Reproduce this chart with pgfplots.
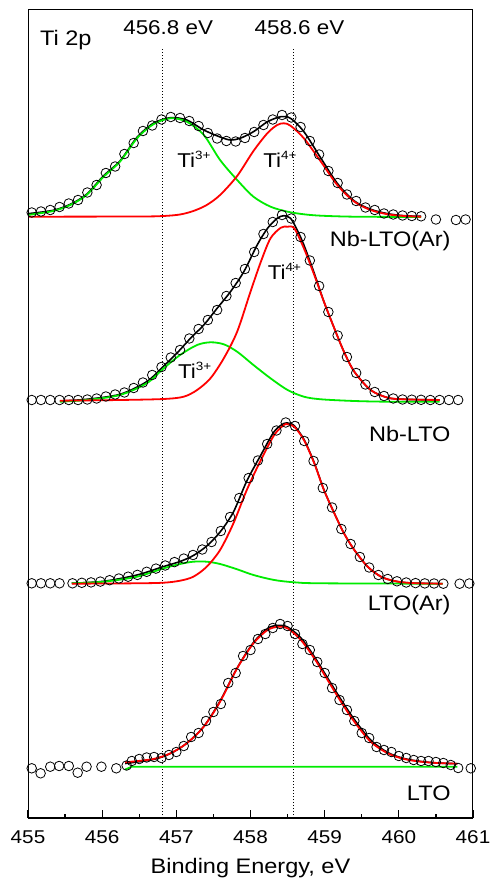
\documentclass[border=0pt]{standalone}
\usepackage{fontspec}
\setmainfont{Liberation Sans}[FakeStretch=1.12]
\usepackage{pgfplots}
\pgfplotsset{compat=1.18}
\usetikzlibrary{calc}
\definecolor{fitgreen}{RGB}{0,235,0}
\definecolor{fitred}{RGB}{255,0,0}

\begin{document}
\begin{tikzpicture}
\begin{axis}[
  width=445pt, height=808pt, scale only axis,
  xmin=455, xmax=461, ymin=0, ymax=808,
  xtick={455,456,...,461}, minor x tick num=1,
  xtick pos=bottom, ytick=\empty,
  tick align=inside,
  major tick length=8pt, minor tick length=4pt,
  every tick/.style={black, line width=1.2pt},
  axis line style={line width=1pt},
  /pgf/number format/assume math mode=true,
  /pgf/number format/1000 sep={},
  x tick label style={font=\fontsize{18.5}{20}\selectfont, anchor=base, yshift=-25pt},
  xlabel={Binding Energy, eV},
  xlabel style={font=\fontsize{21}{23}\selectfont, at={(axis description cs:0.5,0)}, anchor=base, yshift=-55pt},
  circ/.style={only marks, mark=o, mark size=4.8pt, mark options={line width=0.8pt, black}},
  env/.style={black, line width=1.6pt, smooth},
  gfit/.style={fitgreen, line width=1.8pt, smooth},
  rfit/.style={fitred, line width=1.8pt, smooth},
]

% reference lines
\addplot[black, dotted, line width=1pt] coordinates {(456.82,0)(456.82,770)};
\addplot[black, dotted, line width=1pt] coordinates {(458.58,0)(458.58,770)};

% ---------------- Nb-LTO(Ar), top
\addplot[circ] coordinates {
 (455.05,605.5)(455.175,606.5)(455.30,608)(455.425,611)(455.55,614.5)(455.675,618)
 (455.80,625.5)(455.925,633)(456.05,645)(456.175,651.5)(456.30,664)(456.425,675)
 (456.55,687)(456.675,692.5)(456.80,698.5)(456.925,701)(457.05,700)(457.175,697)
 (457.30,692)(457.425,685)(457.55,679.5)(457.675,677)(457.80,676.5)(457.925,680)
 (458.05,686)(458.175,693)(458.30,698.5)(458.425,703)(458.55,700.5)(458.675,691)
 (458.80,677)(458.925,663.5)(459.05,647)(459.175,635)(459.30,623.5)(459.425,617)
 (459.55,610.5)(459.675,608)(459.80,604.5)(459.925,603.5)(460.05,602.5)(460.175,602)
 (460.30,601.7)(460.50,598.5)(460.77,598)(460.90,598.5)};
\addplot[env] coordinates {
 (455.00,604.3)(455.34,607.7)(455.57,613.7)(455.79,623.7)(456.02,642.3)(456.24,657)
 (456.47,680.7)(456.69,694.7)(456.92,700.3)(457.14,698)(457.37,688)(457.59,681)
 (457.73,678)(457.86,679.7)(458.04,686.3)(458.23,696.3)(458.41,701.3)(458.54,699.7)
 (458.72,686.3)(458.95,659.7)(459.17,634.7)(459.40,617)(459.62,608.7)(459.85,604.3)
 (460.07,602.3)(460.30,601.7)};
\addplot[gfit] coordinates {
 (455.00,603)(455.34,607)(455.57,613)(455.79,623)(456.02,641.3)(456.24,656.3)
 (456.47,679.7)(456.69,693.7)(456.92,699.7)(457.14,696.3)(457.37,683)(457.59,658)
 (457.82,638)(458.04,621.3)(458.27,611.3)(458.50,606.3)(458.72,603.7)(458.95,602.3)
 (459.40,601.3)(460.30,601)};
\addplot[rfit] coordinates {
 (455.00,601.3)(456.50,601.5)(456.83,602)(457.05,603.5)(457.23,607)(457.41,613)
 (457.59,623)(457.82,642)(458.04,667)(458.23,685)(458.36,693)(458.45,694.7)
 (458.54,692.3)(458.72,679.7)(458.95,656.3)(459.17,633)(459.40,616.3)(459.62,608)
 (459.85,603.7)(460.07,602)(460.30,601.3)};

% ---------------- Nb-LTO
\addplot[circ] coordinates {
 (455.05,418)(455.175,418)(455.30,418)(455.425,418)(455.55,418)(455.675,418)
 (455.80,418.5)(455.925,419.5)(456.05,421.5)(456.175,423.5)(456.30,425.5)(456.425,430)
 (456.55,435.5)(456.675,443)(456.80,451)(456.925,460.5)(457.05,468)(457.175,479.5)
 (457.30,489)(457.425,498)(457.55,508)(457.675,522)(457.80,535)(457.925,549)
 (458.05,566)(458.175,584)(458.30,596)(458.425,603)(458.55,599.5)(458.675,581)
 (458.80,557.5)(458.925,532)(459.05,506)(459.175,482.5)(459.30,461)(459.425,445)
 (459.55,433.5)(459.675,426)(459.80,422)(459.925,419.5)(460.05,418.5)(460.175,418.3)
 (460.30,418.2)(460.425,418)(460.55,418)(460.675,418)(460.80,418)};
\addplot[env] coordinates {
 (455.43,417)(455.79,418.7)(456.24,423.7)(456.60,436.3)(456.83,452)(457.01,465)
 (457.19,479.7)(457.37,493)(457.55,509.7)(457.73,526.3)(457.91,546.3)(458.09,573)
 (458.23,589.7)(458.36,599.7)(458.45,602.3)(458.54,599.7)(458.63,588)(458.72,573)
 (458.86,544.7)(458.99,516.3)(459.13,489.7)(459.26,466.3)(459.40,446.3)(459.62,428)
 (459.85,420.3)(460.07,418.7)(460.55,418)};
\addplot[gfit] coordinates {
 (455.43,416.3)(455.79,418)(456.24,423)(456.60,434.7)(456.83,449.7)(457.05,463)
 (457.28,473)(457.46,475.7)(457.64,473.7)(457.82,466.3)(458.04,453)(458.27,439.7)
 (458.50,428)(458.72,421.3)(458.95,418.7)(459.40,417)(459.85,416.3)(460.55,416.3)};
\addplot[rfit] coordinates {
 (455.43,417.3)(456.24,418)(456.83,419)(457.10,421.3)(457.28,428)(457.46,439.7)
 (457.64,459.7)(457.82,486.3)(458.00,526.3)(458.14,556.3)(458.27,579.7)(458.41,590.3)
 (458.50,591.3)(458.59,589.7)(458.72,569.7)(458.86,543)(458.99,516.3)(459.13,489.7)
 (459.26,466.3)(459.40,446.3)(459.62,428)(459.85,420.3)(460.07,418.7)(460.55,418)};

% ---------------- LTO(Ar)
\addplot[circ] coordinates {
 (455.05,234.7)(455.175,234.7)(455.30,234.7)(455.425,234.7)(455.60,234.7)(455.725,235.2)
 (455.85,235.6)(455.975,236.4)(456.10,237.8)(456.225,239.5)(456.35,241.3)(456.475,243.1)
 (456.60,246.2)(456.725,249.4)(456.85,252.5)(456.975,255.9)(457.10,259.4)(457.225,263)
 (457.35,268.5)(457.475,276)(457.60,287)(457.725,301)(457.85,320)(457.975,340)
 (458.10,357.5)(458.225,374)(458.35,387.5)(458.475,395.5)(458.60,392)(458.725,377)
 (458.85,357)(458.975,330)(459.10,310.5)(459.225,289)(459.35,274)(459.475,261)
 (459.60,250.5)(459.725,243)(459.85,239)(459.975,236.7)(460.10,235.5)(460.225,234.9)
 (460.35,234.6)(460.475,234.5)(460.60,234.3)(460.82,234.3)(460.95,234.5)};
\addplot[env] coordinates {
 (455.59,234.7)(456.02,236.7)(456.47,243)(456.83,251.5)(457.05,256.5)(457.23,262.5)
 (457.41,272)(457.59,286)(457.77,306)(457.95,337)(458.14,363)(458.32,386.5)
 (458.45,394.5)(458.52,394.7)(458.59,392.3)(458.72,378.7)(458.86,355.2)(458.99,328.2)
 (459.13,304.8)(459.26,284.8)(459.40,268)(459.58,251.3)(459.76,241.3)(459.94,237)
 (460.16,235)(460.59,234.3)};
\addplot[gfit] coordinates {
 (455.59,234.7)(456.02,236.3)(456.47,241.3)(456.83,249.7)(457.05,254)(457.23,256.3)
 (457.41,256.3)(457.59,254)(457.82,248.7)(458.04,243)(458.32,238)(458.59,235.7)
 (458.95,234.7)(460.59,234.3)};
\addplot[rfit] coordinates {
 (455.59,234.3)(456.47,234.7)(456.83,235.3)(457.05,237.3)(457.23,241.3)(457.41,251.3)
 (457.59,268)(457.77,294.7)(457.95,328)(458.14,358)(458.32,383)(458.45,393)
 (458.50,393.7)(458.59,391.3)(458.72,378)(458.86,354.7)(458.99,328)(459.13,304.7)
 (459.26,284.7)(459.40,268)(459.58,251.3)(459.76,241.3)(459.94,237)(460.16,235)
 (460.59,234.3)};

% ---------------- LTO, bottom
\addplot[circ] coordinates {
 (455.05,49.7)(455.17,44.7)(455.30,51.3)(455.42,52)(455.55,52)(455.67,45.3)
 (455.79,51.3)(455.99,51.3)(456.19,49.7)(456.33,52.5)
 (456.4,57)(456.5,59)(456.6,60.5)(456.7,61)(456.8,60)(456.9,63)(457.0,66)
 (457.1,72)(457.2,81)(457.3,85)(457.4,97)(457.5,106)(457.6,114)(457.7,135)
 (457.8,145)(457.9,162)(458.0,168)(458.1,179)(458.2,184)(458.3,190)(458.4,194)
 (458.5,192)(458.6,184)(458.7,174)(458.8,168)(458.9,156)(459.0,145)(459.1,130)
 (459.2,118)(459.3,108)(459.4,97)(459.5,85)(459.6,80)(459.7,71)(459.8,68)
 (459.9,66)(460.0,62)(460.1,60)(460.2,58)(460.3,57)(460.4,57)(460.5,56)
 (460.6,55)(460.7,53)(460.8,50)(460.97,49.7)};
\addplot[env] coordinates {
 (456.31,54.5)(456.69,58.5)(456.92,64.5)(457.14,74.7)(457.37,91.5)(457.59,117)
 (457.82,150)(458.04,175.5)(458.23,189.5)(458.36,192.5)(458.50,191)(458.68,180)
 (458.86,161.5)(459.04,140)(459.22,118.5)(459.40,98.5)(459.62,78)(459.85,65.5)
 (460.07,59.5)(460.30,56.5)(460.52,55)(460.79,54.3)};
\addplot[fitgreen, line width=1.8pt] coordinates {
 (456.31,48.5)(456.40,51.3)(460.79,51.3)};
\addplot[rfit] coordinates {
 (456.31,55.7)(456.69,59)(456.92,64.7)(457.14,74.7)(457.37,91.3)(457.59,116.3)
 (457.82,149.7)(458.04,174.7)(458.23,188)(458.38,191.3)(458.50,189.7)(458.68,178)
 (458.86,159.7)(459.04,138)(459.22,116.3)(459.40,96.3)(459.62,76.3)(459.85,64.7)
 (460.07,59)(460.30,56.3)(460.52,55)(460.79,54.3)};

% thicker left and bottom frame
\draw[line width=2pt] (rel axis cs:0,1) -- (rel axis cs:0,0) -- (rel axis cs:1,0);

% labels
\node[anchor=base west, inner sep=0, font=\fontsize{21}{23}\selectfont] at (axis cs:455.16,772) {Ti 2p};
\node[anchor=base, inner sep=0, font=\fontsize{20}{22}\selectfont] at (axis cs:456.89,783) {456.8 eV};
\node[anchor=base, inner sep=0, font=\fontsize{20}{22}\selectfont] at (axis cs:458.66,783) {458.6 eV};
\node[anchor=base west, inner sep=0, font=\fontsize{20}{22}\selectfont] at (axis cs:457.01,650.3) {Ti\raisebox{8pt}{\fontsize{12}{12}\selectfont 3+}};
\node[anchor=base west, inner sep=0, font=\fontsize{20}{22}\selectfont] at (axis cs:458.17,650.3) {Ti\raisebox{8pt}{\fontsize{12}{12}\selectfont 4+}};
\node[anchor=base west, inner sep=0, font=\fontsize{20}{22}\selectfont] at (axis cs:458.23,538) {Ti\raisebox{8pt}{\fontsize{12}{12}\selectfont 4+}};
\node[anchor=base west, inner sep=0, font=\fontsize{20}{22}\selectfont] at (axis cs:457.02,439.7) {Ti\raisebox{8pt}{\fontsize{12}{12}\selectfont 3+}};
\node[anchor=base east, inner sep=0, font=\fontsize{21}{23}\selectfont] at (axis cs:460.70,571.3) {Nb-LTO(Ar)};
\node[anchor=base east, inner sep=0, font=\fontsize{21}{23}\selectfont] at (axis cs:460.70,376.3) {Nb-LTO};
\node[anchor=base east, inner sep=0, font=\fontsize{21}{23}\selectfont] at (axis cs:460.70,207.3) {LTO(Ar)};
\node[anchor=base east, inner sep=0, font=\fontsize{21}{23}\selectfont] at (axis cs:460.70,18) {LTO};

\coordinate (bl) at (rel axis cs:0,0);
\coordinate (tr) at (rel axis cs:1,1);
\end{axis}
\pgfresetboundingbox
\path[use as bounding box] ($(bl)+(-28pt,-61pt)$) rectangle ($(tr)+(17pt,10pt)$);
\end{tikzpicture}
\end{document}
